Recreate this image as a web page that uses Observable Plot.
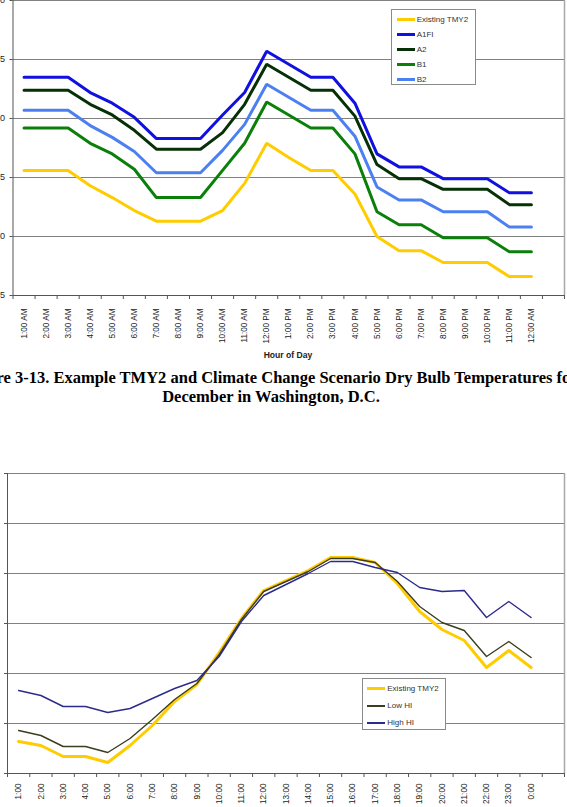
<!DOCTYPE html>
<html><head><meta charset="utf-8">
<script src="https://cdn.jsdelivr.net/npm/d3@7"></script>
<script src="https://cdn.jsdelivr.net/npm/@observablehq/plot@0.6"></script>
<style>
html,body{margin:0;padding:0;background:#fff;}
body{width:567px;height:807px;position:relative;overflow:hidden;font-family:"Liberation Sans",Arial,sans-serif;}
#top,#bottom{position:absolute;left:0;}
#top{top:0;}
#bottom{top:473px;}
.xtitle{position:absolute;left:188px;width:200px;text-align:center;top:350px;font:bold 8.6px "Liberation Sans",Arial,sans-serif;color:#222;}
.caption{position:absolute;left:-129px;width:800px;top:368px;text-align:center;white-space:nowrap;font:bold 16.5px "Liberation Serif","Times New Roman",serif;line-height:19px;color:#000;}
.legend{position:absolute;background:#fff;border:1px solid #8a8a8a;box-sizing:border-box;font:8px "Liberation Sans",Arial,sans-serif;color:#333;}
.legend .row{display:flex;align-items:center;white-space:nowrap;}
.legend .sw{display:inline-block;}
</style>
</head>
<body>
<div id="top"></div>
<div class="xtitle">Hour of Day</div>
<div class="caption">Figure 3-13. Example TMY2 and Climate Change Scenario Dry Bulb Temperatures for<br>December in Washington, D.C.</div>
<div id="bottom"></div>
<script>
// ---------- Top chart data ----------
const hourLabelsTop = ["1:00 AM","2:00 AM","3:00 AM","4:00 AM","5:00 AM","6:00 AM","7:00 AM","8:00 AM","9:00 AM","10:00 AM","11:00 AM","12:00 PM","1:00 PM","2:00 PM","3:00 PM","4:00 PM","5:00 PM","6:00 PM","7:00 PM","8:00 PM","9:00 PM","10:00 PM","11:00 PM","12:00 AM"];
const scenarios = ["Existing TMY2","A1FI","A2","B1","B2"];
const scenarioColors = ["#FFCC00","#1010E0","#063006","#0A800A","#4C80F0"];
const tmy2Top = [35.6,35.6,35.6,34.3,33.3,32.2,31.3,31.3,31.3,32.2,34.5,37.9,36.7,35.6,35.6,33.6,30.0,28.8,28.8,27.8,27.8,27.8,26.6,26.6];
const a1fi   = [43.5,43.5,43.5,42.2,41.3,40.1,38.3,38.3,38.3,40.3,42.2,45.7,44.6,43.5,43.5,41.3,37.0,35.9,35.9,34.9,34.9,34.9,33.7,33.7];
const a2     = [42.4,42.4,42.4,41.2,40.3,39.0,37.4,37.4,37.4,38.8,41.2,44.6,43.5,42.4,42.4,40.2,36.1,34.9,34.9,34.0,34.0,34.0,32.7,32.7];
const b1     = [39.2,39.2,39.2,37.9,37.0,35.7,33.3,33.3,33.3,35.6,37.9,41.4,40.3,39.2,39.2,37.0,32.1,31.0,31.0,29.9,29.9,29.9,28.7,28.7];
const b2     = [40.7,40.7,40.7,39.4,38.4,37.2,35.4,35.4,35.4,37.3,39.5,42.9,41.8,40.7,40.7,38.5,34.2,33.1,33.1,32.1,32.1,32.1,30.8,30.8];
const yTicksTop = [25,30,35,40,45,50];

// ---------- Bottom chart data ----------
const hourLabelsBottom = ["1:00","2:00","3:00","4:00","5:00","6:00","7:00","8:00","9:00","10:00","11:00","12:00","13:00","14:00","15:00","16:00","17:00","18:00","19:00","20:00","21:00","22:00","23:00","0:00"];
const hiSeries = ["Existing TMY2","Low HI","High HI"];
const hiColors = ["#FFCC00","#3C3C1E","#2B2B8C"];
const tmy2Bottom = [73.2,72.8,71.7,71.7,71.1,72.8,74.8,77.2,78.9,82.1,85.5,88.3,89.3,90.3,91.6,91.6,91.1,89.0,86.2,84.4,83.3,80.6,82.3,80.6];
const lowHI      = [74.3,73.8,72.7,72.7,72.1,73.5,75.4,77.4,79.0,81.9,85.4,88.2,89.2,90.2,91.5,91.5,91.1,89.2,86.7,85.1,84.3,81.7,83.2,81.6];
const highHI     = [78.3,77.8,76.7,76.7,76.1,76.5,77.5,78.5,79.3,81.7,85.2,87.8,88.9,90.0,91.2,91.2,90.6,90.1,88.6,88.2,88.3,85.6,87.2,85.6];
const yTicksBottom = [70,75,80,85,90,95,100];

const hours = d3.range(1, 25);
const boundaries = d3.range(0.5, 26, 1);
const font = "Liberation Sans, Arial, sans-serif";

const rowsTop = [];
[tmy2Top, a1fi, a2, b1, b2].forEach((vals, s) => vals.forEach((v, i) => rowsTop.push({hour: i + 1, value: v, series: scenarios[s]})));

const topPlot = Plot.plot({
  width: 567, height: 370,
  marginLeft: 12.5, marginRight: 3, marginTop: 0, marginBottom: 75,
  x: {type: "linear", domain: [0.5, 25.5]},
  y: {domain: [25, 50]},
  color: {domain: scenarios, range: scenarioColors},
  style: {fontFamily: font, color: "#222", background: "transparent", overflow: "hidden"},
  marks: [
    Plot.gridY(yTicksTop, {stroke: "#808080", strokeOpacity: 1}),
    Plot.ruleX([25.5], {stroke: "#a8a8a8", strokeWidth: 1.5}),
    Plot.line(rowsTop, {x: "hour", y: "value", z: "series", stroke: "series", strokeWidth: 3, strokeLinejoin: "miter"}),
    Plot.ruleX([0.5], {stroke: "#555"}),
    Plot.ruleY([25], {stroke: "#555"}),
    Plot.axisY(yTicksTop, {tickSize: 3, tickPadding: 5, fontSize: 9, label: null, stroke: "#555"}),
    Plot.axisX(boundaries, {tickSize: 4, tickFormat: () => "", label: null, stroke: "#555"}),
    Plot.axisX(hours, {tickSize: 0, tickPadding: 13, tickRotate: -90, tickFormat: h => hourLabelsTop[h - 1], fontSize: 8.2, label: null})
  ]
});
document.getElementById("top").append(topPlot);

const rowsBottom = [];
[tmy2Bottom, lowHI, highHI].forEach((vals, s) => vals.forEach((v, i) => rowsBottom.push({hour: i + 1, value: v, series: hiSeries[s]})));
const sel = name => rowsBottom.filter(d => d.series === name);

const bottomPlot = Plot.plot({
  width: 567, height: 334,
  marginLeft: 7, marginRight: 3, marginTop: 0, marginBottom: 34,
  x: {type: "linear", domain: [0.5, 25.5]},
  y: {domain: [70, 100]},
  color: {domain: hiSeries, range: hiColors},
  style: {fontFamily: font, color: "#222", background: "transparent", overflow: "hidden"},
  marks: [
    Plot.gridY(yTicksBottom, {stroke: "#808080", strokeOpacity: 1}),
    Plot.ruleX([25.5], {stroke: "#a8a8a8", strokeWidth: 1.5}),
    Plot.line(sel(hiSeries[0]), {x: "hour", y: "value", stroke: "series", strokeWidth: 3}),
    Plot.line(sel(hiSeries[1]), {x: "hour", y: "value", stroke: "series", strokeWidth: 1.4}),
    Plot.line(sel(hiSeries[2]), {x: "hour", y: "value", stroke: "series", strokeWidth: 1.4}),
    Plot.ruleX([0.5], {stroke: "#555"}),
    Plot.ruleY([70], {stroke: "#555"}),
    Plot.axisY(yTicksBottom, {tickSize: 3, tickPadding: 5, fontSize: 9, label: null, stroke: "#555"}),
    Plot.axisX(boundaries, {tickSize: 4, tickFormat: () => "", label: null, stroke: "#555"}),
    Plot.axisX(hours, {tickSize: 0, tickPadding: 10, tickRotate: -90, tickFormat: h => hourLabelsBottom[h - 1], fontSize: 8.2, label: null})
  ]
});
document.getElementById("bottom").append(bottomPlot);

// ---------- Legends ----------
function legend(names, colors, widths, box) {
  const el = document.createElement("div");
  el.className = "legend";
  Object.assign(el.style, {left: box.left + "px", top: box.top + "px", width: box.width + "px", height: box.height + "px", paddingTop: box.pad + "px"});
  names.forEach((n, i) => {
    const row = document.createElement("div");
    row.className = "row";
    row.style.height = box.rowH + "px";
    const sw = document.createElement("span");
    sw.className = "sw";
    Object.assign(sw.style, {width: box.swW + "px", height: widths[i] + "px", background: colors[i], marginLeft: box.swL + "px", marginRight: box.gap + "px"});
    row.append(sw, document.createTextNode(n));
    el.append(row);
  });
  document.body.append(el);
}
legend(scenarios, scenarioColors, [3,3,3,3,3], {left: 390.7, top: 9.3, width: 85, height: 76, pad: 1.5, rowH: 15, swW: 18, swL: 5, gap: 2});
legend(hiSeries, hiColors, [3,2,2], {left: 361.7, top: 677.7, width: 84.3, height: 52, pad: 1.5, rowH: 17, swW: 17.7, swL: 4.6, gap: 2.3});
</script>
</body></html>
